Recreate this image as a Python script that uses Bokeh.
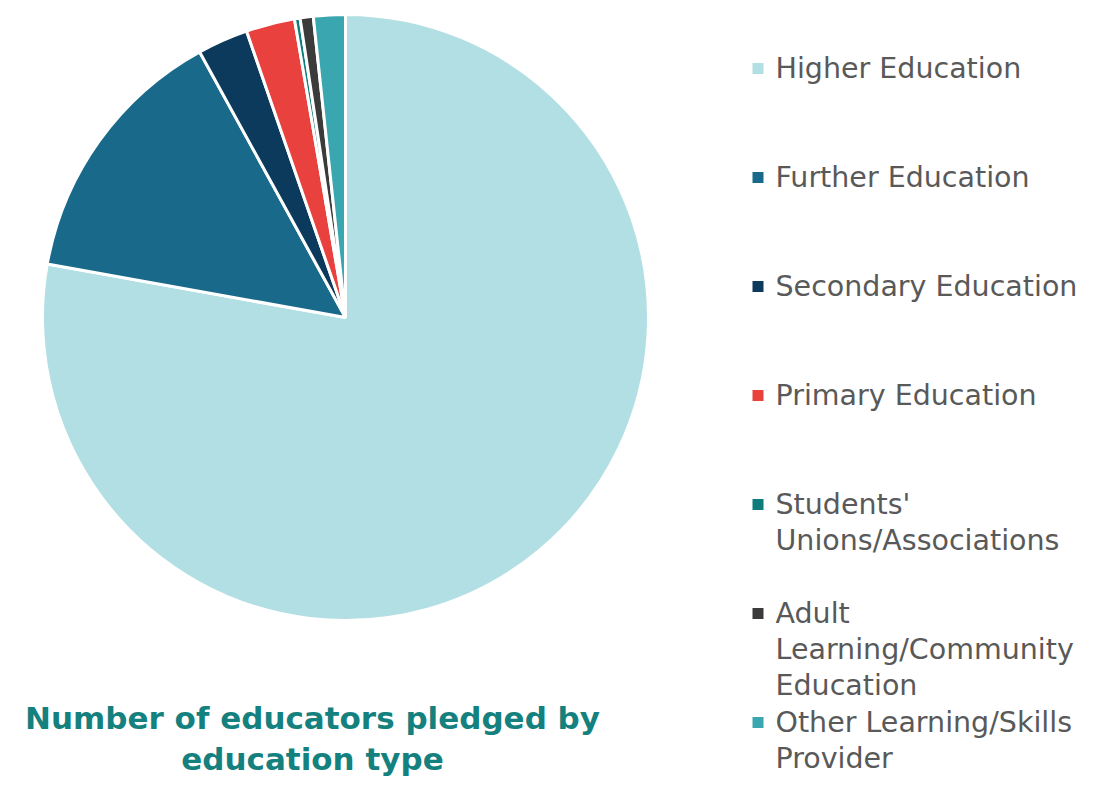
import math
from bokeh.plotting import figure
from bokeh.models import Range1d, ColumnDataSource
from bokeh.core.properties import value
from bokeh.embed import file_html
from bokeh.resources import INLINE

# ---- data (share of educators pledged, %) ----
categories = [
    "Higher Education",
    "Further Education",
    "Secondary Education",
    "Primary Education",
    "Students'\nUnions/Associations",
    "Adult\nLearning/Community\nEducation",
    "Other Learning/Skills\nProvider",
]
shares = [77.9, 14.2, 2.7, 2.6, 0.3, 0.7, 1.7]
colors = ["#B1DFE3", "#196A8A", "#0B3A5C", "#E8413E", "#0E7C7B", "#3B3B3B", "#3AA6AF"]
title_lines = ["Number of educators pledged by", "education type"]

W, H = 1078, 781
p = figure(width=W, height=H, output_backend="svg", toolbar_location=None,
           x_range=Range1d(0, W), y_range=Range1d(0, H), min_border=0)
p.axis.visible = False
p.grid.visible = False
p.outline_line_color = None
p.background_fill_color = "white"
p.border_fill_color = "white"

def X(px):
    return px
def Y(py):
    return H - py

# ---- pie ----
total = sum(shares)
starts, ends = [], []
cum = 0.0
for s in shares:
    starts.append(math.pi / 2 - 2 * math.pi * cum / total)
    cum += s
    ends.append(math.pi / 2 - 2 * math.pi * cum / total)
src = ColumnDataSource(dict(start=starts, end=ends, color=colors))
p.wedge(x=X(345), y=Y(317), radius=303, start_angle="start", end_angle="end",
        direction="clock", fill_color="color", line_color="white", line_width=3,
        source=src)

# ---- legend ----
legend_top, legend_step, line_step = 68, 109, 36
sq_x, sq_y, tx, ty, tt = [], [], [], [], []
for i, (name, c) in enumerate(zip(categories, colors)):
    y0 = legend_top + legend_step * i
    sq_x.append(X(757.5))
    sq_y.append(Y(y0))
    for j, line in enumerate(name.split("\n")):
        tx.append(X(775))
        ty.append(Y(y0 + line_step * j))
        tt.append(line)
p.scatter(x=sq_x, y=sq_y, marker="square", size=11, fill_color=colors, line_color=None)
p.text(x=tx, y=ty, text=tt, text_font=value("DejaVu Sans"), text_font_size="28.5px",
       text_color="#595959", text_baseline="middle", text_align="left")

# ---- title ----
p.text(x=[X(312)] * 2, y=[Y(717), Y(758)], text=title_lines,
       text_font=value("DejaVu Sans"), text_font_style="bold", text_font_size="31px",
       text_color="#14817F", text_baseline="middle", text_align="center")

open("out.html", "w").write(file_html(p, INLINE))
